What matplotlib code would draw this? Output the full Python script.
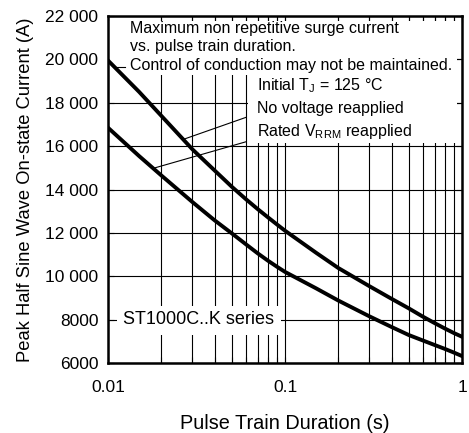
import matplotlib
matplotlib.use('agg')
import matplotlib.pyplot as plt
from matplotlib import ticker
from matplotlib.patches import Rectangle
import numpy as np

plt.rcParams['font.family'] = ['Liberation Sans', 'DejaVu Sans']

# pulse train duration (s) and surge current (A)
duration = [0.01, 0.015, 0.02, 0.03, 0.04, 0.05, 0.06, 0.07, 0.08, 0.09, 0.1,
            0.15, 0.2, 0.3, 0.4, 0.5, 0.6, 0.7, 0.8, 0.9, 1.0]
no_voltage = [19950, 18500, 17400, 15850, 14880, 14130, 13560, 13100, 12720, 12390, 12100,
              11080, 10380, 9540, 8960, 8520, 8140, 7840, 7590, 7380, 7210]
rated_vrrm = [16850, 15540, 14650, 13420, 12580, 11980, 11480, 11060, 10720, 10440, 10200,
              9440, 8880, 8150, 7660, 7290, 7040, 6830, 6650, 6480, 6320]

yticks = [6000, 8000, 10000, 12000, 14000, 16000, 18000, 20000, 22000]
xticks = [0.01, 0.1, 1]
xticklabels = ['0.01', '0.1', '1']

fig = plt.figure(figsize=(4.69, 4.33), dpi=100)
ax = fig.add_axes([0.2303, 0.1617, 0.7548, 0.8013])

ax.set_xscale('log')
ax.set_xlim(0.01, 1)
ax.set_ylim(6000, 22000)
ax.set_axisbelow(True)

ax.set_xticks(xticks)
ax.set_xticklabels(xticklabels)
ax.xaxis.set_minor_locator(ticker.LogLocator(base=10, subs=np.arange(2, 10)))
ax.xaxis.set_minor_formatter(ticker.NullFormatter())
ax.set_yticks(yticks)
ax.yaxis.set_major_formatter(ticker.FuncFormatter(
    lambda v, p: '%d' % v if v < 10000 else '%d %03d' % (v // 1000, v % 1000)))

ax.grid(which='both', color='black', linewidth=0.8)
ax.tick_params(which='both', direction='in', top=True, right=True, length=4,
               width=0.8, labelsize=12.5)
ax.tick_params(axis='y', pad=7)
ax.tick_params(axis='x', pad=12)
for s in ax.spines.values():
    s.set_linewidth(1.8)

# white boxes behind the notes (hide grid there)
ax.add_patch(Rectangle((0, 0.830), 0.986, 0.1556, transform=ax.transAxes,
                       facecolor='white', edgecolor='none', zorder=1))
ax.add_patch(Rectangle((0.395, 0.634), 0.591, 0.2, transform=ax.transAxes,
                       facecolor='white', edgecolor='none', zorder=1))
ax.add_patch(Rectangle((0.025, 0.081), 0.465, 0.083, transform=ax.transAxes,
                       facecolor='white', edgecolor='none', zorder=1))

ax.plot(duration, no_voltage, color='black', linewidth=2.8, zorder=3,
        solid_joinstyle='round')
ax.plot(duration, rated_vrrm, color='black', linewidth=2.8, zorder=3,
        solid_joinstyle='round')

# leader lines from the curves to the labels
lx = np.log10(duration)
def on_curve(x, ys):
    return np.interp(np.log10(x), lx, ys)
ax.plot([0.0266, 0.060], [on_curve(0.0266, no_voltage), 17323], color='black', linewidth=0.8, zorder=2)
ax.plot([0.0180, 0.060], [on_curve(0.0180, rated_vrrm), 16198], color='black', linewidth=0.8, zorder=2)
ax.plot([0.0109, 0.0125], [on_curve(0.0109, no_voltage)] * 2, color='black', linewidth=0.8, zorder=2)

fs = 11.5
tx = ax.transAxes
ax.text(0.062, 0.965, 'Maximum non repetitive surge current', transform=tx, fontsize=fs, va='center', zorder=4)
ax.text(0.062, 0.912, 'vs. pulse train duration.', transform=tx, fontsize=fs, va='center', zorder=4)
ax.text(0.062, 0.858, 'Control of conduction may not be maintained.', transform=tx, fontsize=fs, va='center', zorder=4)
ax.text(0.420, 0.800, 'Initial T$_\\mathregular{J}$ = 125 °C', transform=tx, fontsize=fs, va='center', zorder=4)
ax.text(0.420, 0.734, 'No voltage reapplied', transform=tx, fontsize=fs, va='center', zorder=4)
ax.text(0.420, 0.668, 'Rated V$_\\mathregular{RRM}$ reapplied', transform=tx, fontsize=fs, va='center', zorder=4)
ax.text(0.042, 0.124, 'ST1000C..K series', transform=tx, fontsize=13, va='center', zorder=4)

ax.set_xlabel('Pulse Train Duration (s)', fontsize=14.3, labelpad=14)
ax.set_ylabel('Peak Half Sine Wave On-state Current (A)', fontsize=13.2, labelpad=8)

fig.savefig('out.png', dpi=100)
